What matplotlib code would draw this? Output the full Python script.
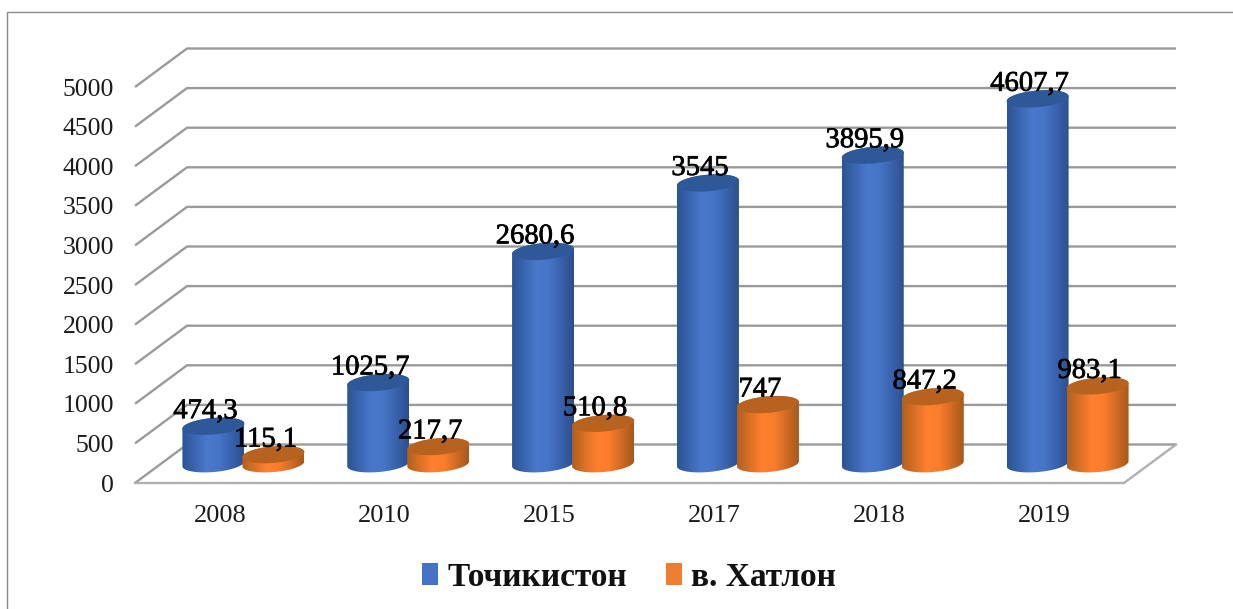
import numpy as np
import matplotlib
matplotlib.use('Agg')
import matplotlib.pyplot as plt
from matplotlib.colors import LinearSegmentedColormap
from matplotlib.lines import Line2D
from matplotlib.patches import Patch, Polygon
import matplotlib.patheffects as pe

years = ['2008', '2010', '2015', '2017', '2018', '2019']
tojikiston = [474.3, 1025.7, 2680.6, 3545, 3895.9, 4607.7]
khatlon = [115.1, 217.7, 510.8, 747, 847.2, 983.1]
y_ticks = [0, 500, 1000, 1500, 2000, 2500, 3000, 3500, 4000, 4500, 5000]
series_names = ['Точикистон', 'в. Хатлон']

W, H = 1233, 609
# front plane of the fake 3d box, in pixels
LEFT, RIGHT, BOTTOM, TOP = 135, 1124, 483, 87
PX_X = (RIGHT - LEFT) / len(years)
PX_Y = (BOTTOM - TOP) / 5000
DEPTH_X = 52 / PX_X
DEPTH_Y = 38.5 / PX_Y

plt.rcParams['font.family'] = ['Liberation Serif', 'DejaVu Serif']

blue_map = LinearSegmentedColormap.from_list(
    'blue_cyl', ['#2b5494', '#3a66b0', '#4a78cc', '#4674c6', '#3a62ac', '#2c4f8c'])
orange_map = LinearSegmentedColormap.from_list(
    'orange_cyl', ['#b0601f', '#d87026', '#ff802e', '#fb7d2c', '#d06b24', '#a5591c'])
BLUE_TOP = '#2f5899'
ORANGE_TOP = '#b8621f'


def cylinder(ax, cx, value, cmap, top_color, z):
    a = 31 / PX_X
    b = 8.3 / PX_Y
    shear = 2.5 / PX_Y
    base = DEPTH_Y / 2
    t = np.linspace(0, np.pi, 60)
    top_x = cx + a * np.cos(t)
    top_y = base + value + b * np.sin(t) + shear * np.cos(t)
    bot_x = cx + a * np.cos(t + np.pi)
    bot_y = base + b * np.sin(t + np.pi) + shear * np.cos(t + np.pi)

    outline = np.column_stack([np.r_[top_x, bot_x], np.r_[top_y, bot_y]])
    clip = Polygon(outline, closed=True, transform=ax.transData)
    im = ax.imshow(np.linspace(0, 1, 128).reshape(1, -1), cmap=cmap, aspect='auto',
                   extent=(cx - a, cx + a, base - b - shear, base + value + b + shear),
                   zorder=z, interpolation='bilinear')
    im.set_clip_path(clip)
    # the last cylinder sticks out of the front plane
    im.set_clip_box(ax.figure.bbox)

    t2 = np.linspace(0, 2 * np.pi, 120)
    cap = np.column_stack([cx + a * np.cos(t2),
                           base + value + b * np.sin(t2) + shear * np.cos(t2)])
    ax.add_patch(Polygon(cap, closed=True, facecolor=top_color, edgecolor='none',
                         zorder=z + 0.1, clip_on=False))


def main():
    fig = plt.figure(figsize=(W / 100, H / 100), dpi=100)
    ax = fig.add_axes([LEFT / W, 1 - BOTTOM / H, (RIGHT - LEFT) / W, (BOTTOM - TOP) / H])
    n = len(years)
    ax.set_xlim(0, n)
    ax.set_ylim(0, 5000)
    for s in ax.spines.values():
        s.set_visible(False)
    ax.patch.set_visible(False)

    # chart border, only left and top show up in the crop
    fig.add_artist(Line2D([7 / W, 7 / W, 1], [0, 1 - 12 / H, 1 - 12 / H], color='#8a8a8a', lw=1))

    # walls and floor
    grid = dict(color='#9a9a9a', lw=1.7, solid_capstyle='butt', clip_on=False, zorder=1)
    for v in y_ticks:
        ax.plot([0, DEPTH_X, n + DEPTH_X], [v, v + DEPTH_Y, v + DEPTH_Y], **grid)
    floor = dict(color='#b0b0b0', lw=1.7, clip_on=False, zorder=1)
    ax.plot([0, n, n + DEPTH_X], [0, 0, DEPTH_Y], **floor)

    ax.set_yticks(y_ticks)
    ax.set_yticklabels([str(v) for v in y_ticks], fontsize=18.5, color='#1a1a1a')
    ax.set_xticks(np.arange(n) + 0.5 + 2.5 / PX_X)
    ax.set_xticklabels(years, fontsize=19, color='#1a1a1a')
    ax.tick_params(axis='y', length=0, pad=15)
    ax.tick_params(axis='x', length=0, pad=16)

    # cylinders, pair is pushed to the middle of the depth
    z = 2
    centers = np.arange(n) + 0.5 + DEPTH_X / 2
    for i in range(n):
        blue_x = centers[i] - 30 / PX_X
        orange_x = centers[i] + 30 / PX_X
        cylinder(ax, blue_x, tojikiston[i], blue_map, BLUE_TOP, z)
        cylinder(ax, orange_x, khatlon[i], orange_map, ORANGE_TOP, z + 1)
        z += 2
        for x, v in ((blue_x, tojikiston[i]), (orange_x, khatlon[i])):
            ax.text(x - 8 / PX_X, DEPTH_Y / 2 + v + 18 / PX_Y, str(v).replace('.', ','),
                    ha='center', va='center_baseline', fontsize=20.6, color='#000000', zorder=50,
                    path_effects=[pe.withStroke(linewidth=0.5, foreground='#000000')])

    ax.set_xlim(0, n)
    ax.set_ylim(0, 5000)

    handles = [Patch(facecolor='#4472c4', edgecolor='none'), Patch(facecolor='#ed7d31', edgecolor='none')]
    leg = ax.legend(handles, series_names, loc='center', bbox_to_anchor=(629 / W, 1 - 577 / H),
                    bbox_transform=fig.transFigure, ncol=2, frameon=False,
                    prop={'size': 24, 'weight': 'bold', 'family': 'Liberation Serif'},
                    handlelength=0.48, handleheight=0.66, handletextpad=0.28, columnspacing=1.15,
                    labelcolor='#111111')
    leg.set_zorder(60)

    fig.savefig('out.png', dpi=100)


if __name__ == '__main__':
    main()
